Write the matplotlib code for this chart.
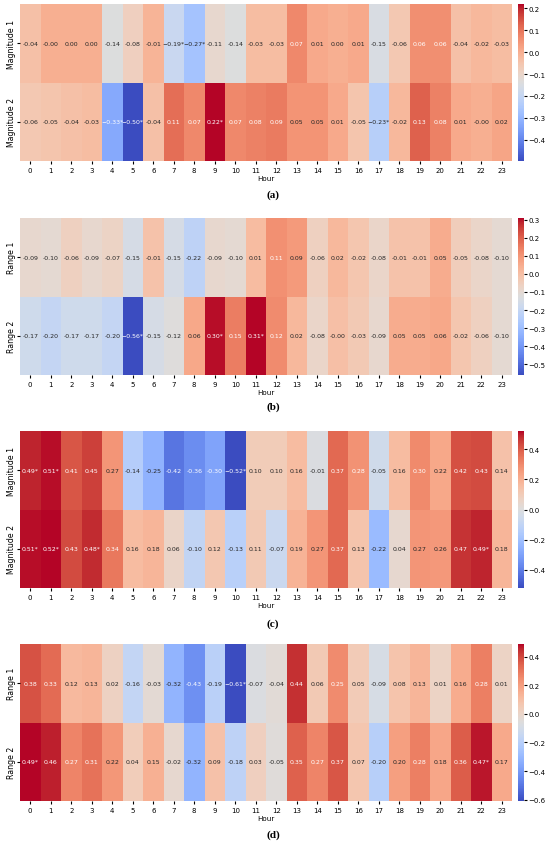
import numpy as np
import matplotlib
matplotlib.use("Agg")
import matplotlib.pyplot as plt
import seaborn as sns

HOURS = list(range(24))

# (a) magnitude correlations
mag1_a = [-0.04, -0.00, 0.00, 0.00, -0.14, -0.08, -0.01, -0.19, -0.27, -0.11, -0.14, -0.03,
          -0.03, 0.07, 0.01, 0.00, 0.01, -0.15, -0.06, 0.06, 0.06, -0.04, -0.02, -0.03]
mag2_a = [-0.06, -0.05, -0.04, -0.03, -0.33, -0.497, -0.04, 0.11, 0.07, 0.22, 0.07, 0.08,
          0.09, 0.05, 0.05, 0.01, -0.05, -0.23, -0.02, 0.13, 0.08, 0.01, -0.00, 0.02]
sig1_a = [7, 8]
sig2_a = [4, 5, 9, 17]

# (b) range correlations
rng1_b = [-0.09, -0.10, -0.06, -0.09, -0.07, -0.15, -0.01, -0.15, -0.22, -0.09, -0.10, 0.01,
          0.11, 0.09, -0.06, 0.02, -0.02, -0.08, -0.01, -0.01, 0.05, -0.05, -0.08, -0.10]
rng2_b = [-0.17, -0.20, -0.17, -0.17, -0.20, -0.56, -0.15, -0.12, 0.06, 0.30, 0.15, 0.31,
          0.12, 0.02, -0.08, -0.00, -0.03, -0.09, 0.05, 0.05, 0.06, -0.02, -0.06, -0.10]
sig1_b = []
sig2_b = [5, 9, 11]

# (c) magnitude correlations
mag1_c = [0.49, 0.51, 0.41, 0.45, 0.27, -0.14, -0.25, -0.42, -0.36, -0.30, -0.52, 0.10,
          0.10, 0.16, -0.01, 0.37, 0.28, -0.05, 0.16, 0.30, 0.22, 0.42, 0.43, 0.14]
mag2_c = [0.51, 0.52, 0.43, 0.48, 0.34, 0.16, 0.18, 0.06, -0.10, 0.12, -0.13, 0.11,
          -0.07, 0.19, 0.27, 0.37, 0.13, -0.22, 0.04, 0.27, 0.26, 0.47, 0.49, 0.18]
sig1_c = [0, 1, 10]
sig2_c = [0, 1, 3, 22]

# (d) range correlations
rng1_d = [0.38, 0.33, 0.12, 0.13, 0.02, -0.16, -0.03, -0.32, -0.43, -0.19, -0.61, -0.07,
          -0.04, 0.44, 0.06, 0.25, 0.05, -0.09, 0.08, 0.13, 0.01, 0.16, 0.28, 0.01]
rng2_d = [0.49, 0.46, 0.27, 0.31, 0.22, 0.04, 0.15, -0.02, -0.32, 0.09, -0.18, 0.03,
          -0.05, 0.35, 0.27, 0.37, 0.07, -0.20, 0.20, 0.28, 0.18, 0.36, 0.47, 0.17]
sig1_d = [10]
sig2_d = [0, 22]

PANELS = [
    ("(a)", ["Magnitude 1", "Magnitude 2"], [mag1_a, mag2_a], [sig1_a, sig2_a]),
    ("(b)", ["Range 1", "Range 2"], [rng1_b, rng2_b], [sig1_b, sig2_b]),
    ("(c)", ["Magnitude 1", "Magnitude 2"], [mag1_c, mag2_c], [sig1_c, sig2_c]),
    ("(d)", ["Range 1", "Range 2"], [rng1_d, rng2_d], [sig1_d, sig2_d]),
]


def fmt_cell(v, significant):
    if significant:
        return f"{v:.2f}*".replace("-", "\u2212")
    return f"{v:.2f}"


W, H = 550, 845
fig = plt.figure(figsize=(W / 100, H / 100), dpi=100)

tops = [5, 219, 432, 645]
label_y = [195, 407, 624, 835]
hm_h = 157

for (tag, rows, vals, sigs), top, ly in zip(PANELS, tops, label_y):
    data = np.array(vals)
    annot = np.array([[fmt_cell(v, i in s) for i, v in enumerate(row)]
                      for row, s in zip(vals, sigs)])
    ax = fig.add_axes([20 / W, 1 - (top + hm_h) / H, 492 / W, hm_h / H])
    cax = fig.add_axes([518 / W, 1 - (top + hm_h) / H, 6 / W, hm_h / H])
    sns.heatmap(data, ax=ax, cbar_ax=cax, cmap="coolwarm", annot=annot, fmt="",
                annot_kws={"fontsize": 4.5}, xticklabels=HOURS, yticklabels=rows)
    ax.set_xlabel("Hour", fontsize=5.1, labelpad=1)
    ax.tick_params(axis="x", labelsize=5.0, length=2, pad=2.5, rotation=0)
    ax.tick_params(axis="y", labelsize=5.6, length=2, pad=1)
    for t in ax.get_yticklabels():
        t.set_rotation(90)
        t.set_va("center")
    cax.tick_params(labelsize=5.0, length=2, pad=1)
    fig.text(273 / W, 1 - ly / H, tag, ha="center", va="center",
             family="Liberation Serif", fontweight="bold", fontsize=8)

fig.savefig("out.png", dpi=100)
